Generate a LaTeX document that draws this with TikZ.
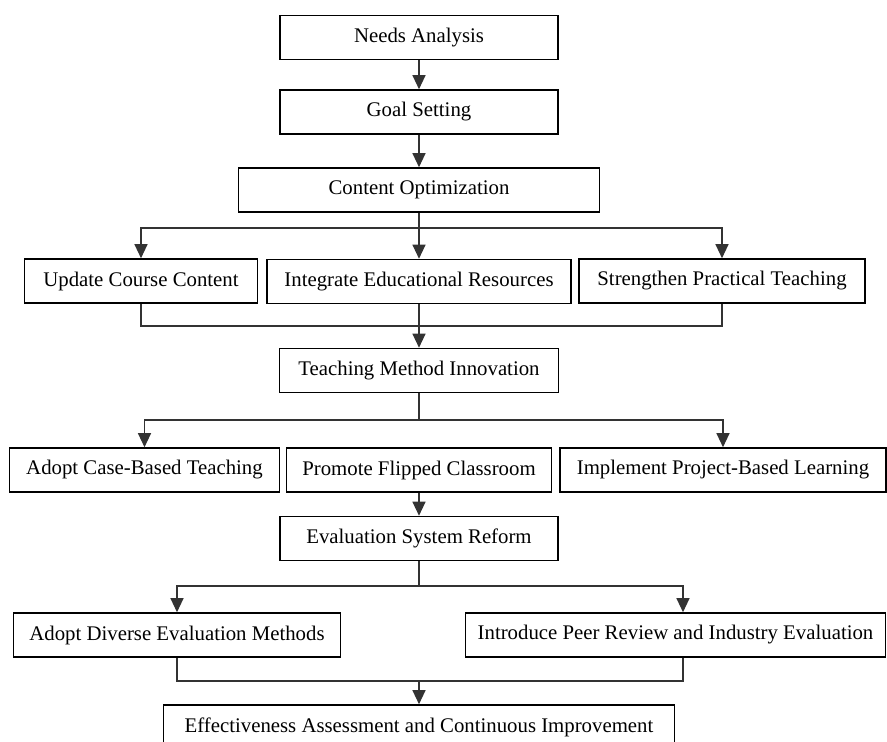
\documentclass[tikz,border=0pt]{standalone}
\usepackage{fontspec}
\setmainfont{Liberation Serif}
\usetikzlibrary{arrows.meta}
\begin{document}
\begin{tikzpicture}[x=1pt,y=-1pt,
  box/.style={draw=black,line width=1.6pt,inner sep=0pt,minimum height=44pt,align=center,
    font=\fontsize{20.8}{24}\selectfont},
  conn/.style={draw=black!80,line width=1.2pt},
  arr/.style={conn,-{Triangle[length=14pt,width=13pt]}}]
\useasboundingbox (0,0) rectangle (887,742);
\clip (0,0) rectangle (887,742);
% row nodes
\node[box,minimum width=278pt,minimum height=44pt] (NA) at (419,37.5) {Needs Analysis};
\node[box,minimum width=278pt] (GS) at (419,112) {Goal Setting};
\node[box,minimum width=361pt] (CO) at (419,190) {Content Optimization};
\node[box,minimum width=233pt] (UC) at (141,281) {Update Course Content};
\node[box,minimum width=304pt] (IE) at (419,281.5) {Integrate Educational Resources};
\node[box,minimum width=286pt] (SP) at (722,281) {Strengthen Practical Teaching};
\node[box,minimum width=279pt] (TM) at (419,370.5) {Teaching Method Innovation};
\node[box,minimum width=270pt] (AC) at (144.5,470) {Adopt Case-Based Teaching};
\node[box,minimum width=265pt] (PF) at (419,470) {Promote Flipped Classroom};
\node[box,minimum width=326pt] (IP) at (723,470) {Implement Project-Based Learning};
\node[box,minimum width=278pt] (ES) at (419,538.5) {Evaluation System Reform};
\node[box,minimum width=327pt] (AD) at (177,635) {Adopt Diverse Evaluation Methods};
\node[box,minimum width=420pt] (IR) at (675.5,635) {Introduce Peer Review and Industry Evaluation};
\node[box,minimum width=511pt] (EA) at (419,727) {Effectiveness Assessment and Continuous Improvement};
% branch coordinates
\coordinate (b1) at (419,228);
\coordinate (m1) at (419,326);
\coordinate (b2) at (419,420);
\coordinate (b3) at (419,586);
\coordinate (m3) at (419,681);
% connectors
\draw[arr] (NA.south) -- (GS.north);
\draw[arr] (GS.south) -- (CO.north);
\draw[conn] (CO.south) -- (b1);
\draw[arr] (b1) -| (UC.north);
\draw[arr] (b1) -- (IE.north);
\draw[arr] (b1) -| (SP.north);
\draw[conn] (UC.south) |- (m1) -| (SP.south);
\draw[arr] (IE.south) -- (TM.north);
\draw[conn] (TM.south) -- (b2);
\draw[arr] (b2) -| (AC.north);
\draw[arr] (b2) -| (IP.north);
\draw[arr] (PF.south) -- (ES.north);
\draw[conn] (ES.south) -- (b3);
\draw[arr] (b3) -| (AD.north);
\draw[arr] (b3) -| ([xshift=7.5pt]IR.north);
\draw[conn] (AD.south) |- (m3) -| ([xshift=7.5pt]IR.south);
\draw[arr] (m3) -- (EA.north);
\end{tikzpicture}
\end{document}
